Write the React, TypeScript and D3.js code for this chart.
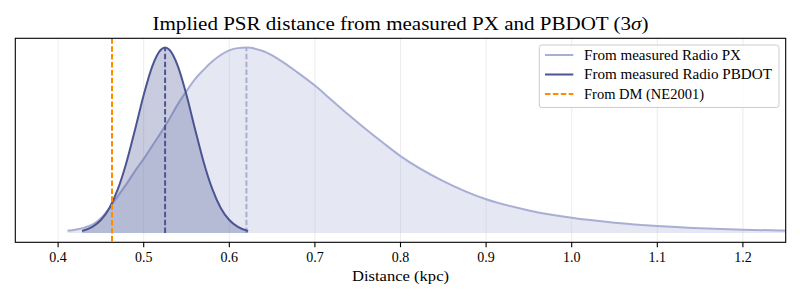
import React from "react";
import * as d3 from "d3";

// distance grid (kpc) and normalised PDF
const pxDist = [0.411, 0.42, 0.43, 0.44, 0.45, 0.46, 0.47, 0.48, 0.49, 0.5, 0.51, 0.52, 0.53, 0.54, 0.55, 0.56, 0.57, 0.58, 0.59, 0.6, 0.61, 0.62, 0.64, 0.66, 0.68, 0.7, 0.72, 0.74, 0.76, 0.78, 0.8, 0.85, 0.9, 0.95, 1.0, 1.05, 1.1, 1.15, 1.2, 1.25, 1.3];
const pxPdf = [0.012, 0.018, 0.028, 0.045, 0.08, 0.135, 0.2, 0.265, 0.335, 0.4, 0.47, 0.54, 0.615, 0.695, 0.765, 0.83, 0.88, 0.925, 0.96, 0.985, 0.997, 1.0, 0.98, 0.93, 0.865, 0.795, 0.715, 0.635, 0.558, 0.485, 0.415, 0.28, 0.182, 0.122, 0.082, 0.056, 0.038, 0.026, 0.018, 0.013, 0.01];

const pbdotDist = [0.428, 0.44, 0.45, 0.46, 0.47, 0.48, 0.49, 0.5, 0.51, 0.52, 0.525, 0.53, 0.54, 0.55, 0.56, 0.57, 0.58, 0.59, 0.6, 0.61, 0.622];
const pbdotPdf = [0.011, 0.033, 0.07, 0.135, 0.239, 0.383, 0.56, 0.744, 0.899, 0.988, 1.0, 0.988, 0.899, 0.744, 0.56, 0.383, 0.239, 0.135, 0.07, 0.033, 0.011];

const pxPeak = 0.62;
const pbdotPeak = 0.525;
const dmDist = 0.463;

const xTicks = [0.4, 0.5, 0.6, 0.7, 0.8, 0.9, 1.0, 1.1, 1.2];

const legendLabels = ["From measured Radio PX", "From measured Radio PBDOT", "From DM (NE2001)"];
const legendWidths = [157, 188, 120];

const PX_COLOR = "#a9aed4";
const PB_COLOR = "#4a5592";
const DM_COLOR = "#ff8c00";
const FONT = "'Liberation Serif', 'DejaVu Serif', serif";

export default function App() {
  const W = 800, H = 300;
  const left = 15.3, right = 785.7, top = 38.3, bottom = 242.3;

  const x = d3.scaleLinear().domain([0.35, 1.25]).range([left, right]);
  const y = d3.scaleLinear().domain([-0.05, 1.05]).range([bottom, top]);

  const line = d3.line<[number, number]>().x(d => x(d[0])).y(d => y(d[1])).curve(d3.curveMonotoneX);
  const area = d3.area<[number, number]>().x(d => x(d[0])).y0(y(0)).y1(d => y(d[1])).curve(d3.curveMonotoneX);

  const px: [number, number][] = pxDist.map((d, i) => [d, pxPdf[i]]);
  const pb: [number, number][] = pbdotDist.map((d, i) => [d, pbdotPdf[i]]);

  const legendRows = [
    { color: PX_COLOR, dash: undefined },
    { color: PB_COLOR, dash: undefined },
    { color: DM_COLOR, dash: "5.5,2.4" },
  ];

  return (
    <svg width={W} height={H} style={{ display: "block", position: "absolute", left: 0, top: 0 }} fontFamily={FONT}>
      <defs>
        <clipPath id="plotClip">
          <rect x={left} y={top} width={right - left} height={bottom - top} />
        </clipPath>
      </defs>
      <rect width={W} height={H} fill="white" />

      {/* title */}
      <text x={(left + right) / 2} y={29.5} textAnchor="middle" fontSize={19} textLength={496} lengthAdjust="spacingAndGlyphs">
        Implied PSR distance from measured PX and PBDOT (3<tspan fontStyle="italic">σ</tspan>)
      </text>

      {/* grid */}
      {xTicks.map(t => (
        <line key={"g" + t} x1={x(t)} x2={x(t)} y1={top} y2={bottom} stroke="#b0b0b0" strokeOpacity={0.3} strokeWidth={0.8} />
      ))}

      <g clipPath="url(#plotClip)">
        <path d={area(px) ?? ""} fill={PX_COLOR} fillOpacity={0.3} />
        <path d={line(px) ?? ""} fill="none" stroke={PX_COLOR} strokeWidth={2} />
        <line x1={x(pxPeak)} x2={x(pxPeak)} y1={y(0)} y2={y(1)} stroke={PX_COLOR} strokeWidth={2} strokeDasharray="5.5,2.4" />

        <path d={area(pb) ?? ""} fill={PB_COLOR} fillOpacity={0.3} />
        <path d={line(pb) ?? ""} fill="none" stroke={PB_COLOR} strokeWidth={2} />
        <line x1={x(pbdotPeak)} x2={x(pbdotPeak)} y1={y(0)} y2={y(1)} stroke={PB_COLOR} strokeWidth={2} strokeDasharray="5.5,2.4" />

        <line x1={x(dmDist)} x2={x(dmDist)} y1={top} y2={bottom} stroke={DM_COLOR} strokeWidth={2} strokeDasharray="5.5,2.4" />
      </g>

      {/* frame */}
      <rect x={left} y={top} width={right - left} height={bottom - top} fill="none" stroke="black" strokeWidth={1.1} />

      {/* x axis */}
      {xTicks.map(t => (
        <g key={"t" + t}>
          <line x1={x(t)} x2={x(t)} y1={bottom} y2={bottom + 4.9} stroke="black" strokeWidth={1.1} />
          <text x={x(t)} y={262} textAnchor="middle" fontSize={14}>{d3.format(".1f")(t)}</text>
        </g>
      ))}
      <text x={(left + right) / 2} y={280.5} textAnchor="middle" fontSize={14.5} textLength={97} lengthAdjust="spacingAndGlyphs">
        Distance (kpc)
      </text>

      {/* legend */}
      <rect x={539.3} y={45} width={239.7} height={62.5} rx={2.5} fill="white" fillOpacity={0.8} stroke="#cccccc" strokeWidth={1} />
      {legendLabels.map((lab, i) => {
        const cy = 55 + i * 19.5;
        return (
          <g key={lab}>
            <line x1={545} x2={573.3} y1={cy} y2={cy} stroke={legendRows[i].color} strokeWidth={2} strokeDasharray={legendRows[i].dash} />
            <text x={584} y={cy + 4.5} fontSize={14} textLength={legendWidths[i]} lengthAdjust="spacingAndGlyphs">{lab}</text>
          </g>
        );
      })}
    </svg>
  );
}
